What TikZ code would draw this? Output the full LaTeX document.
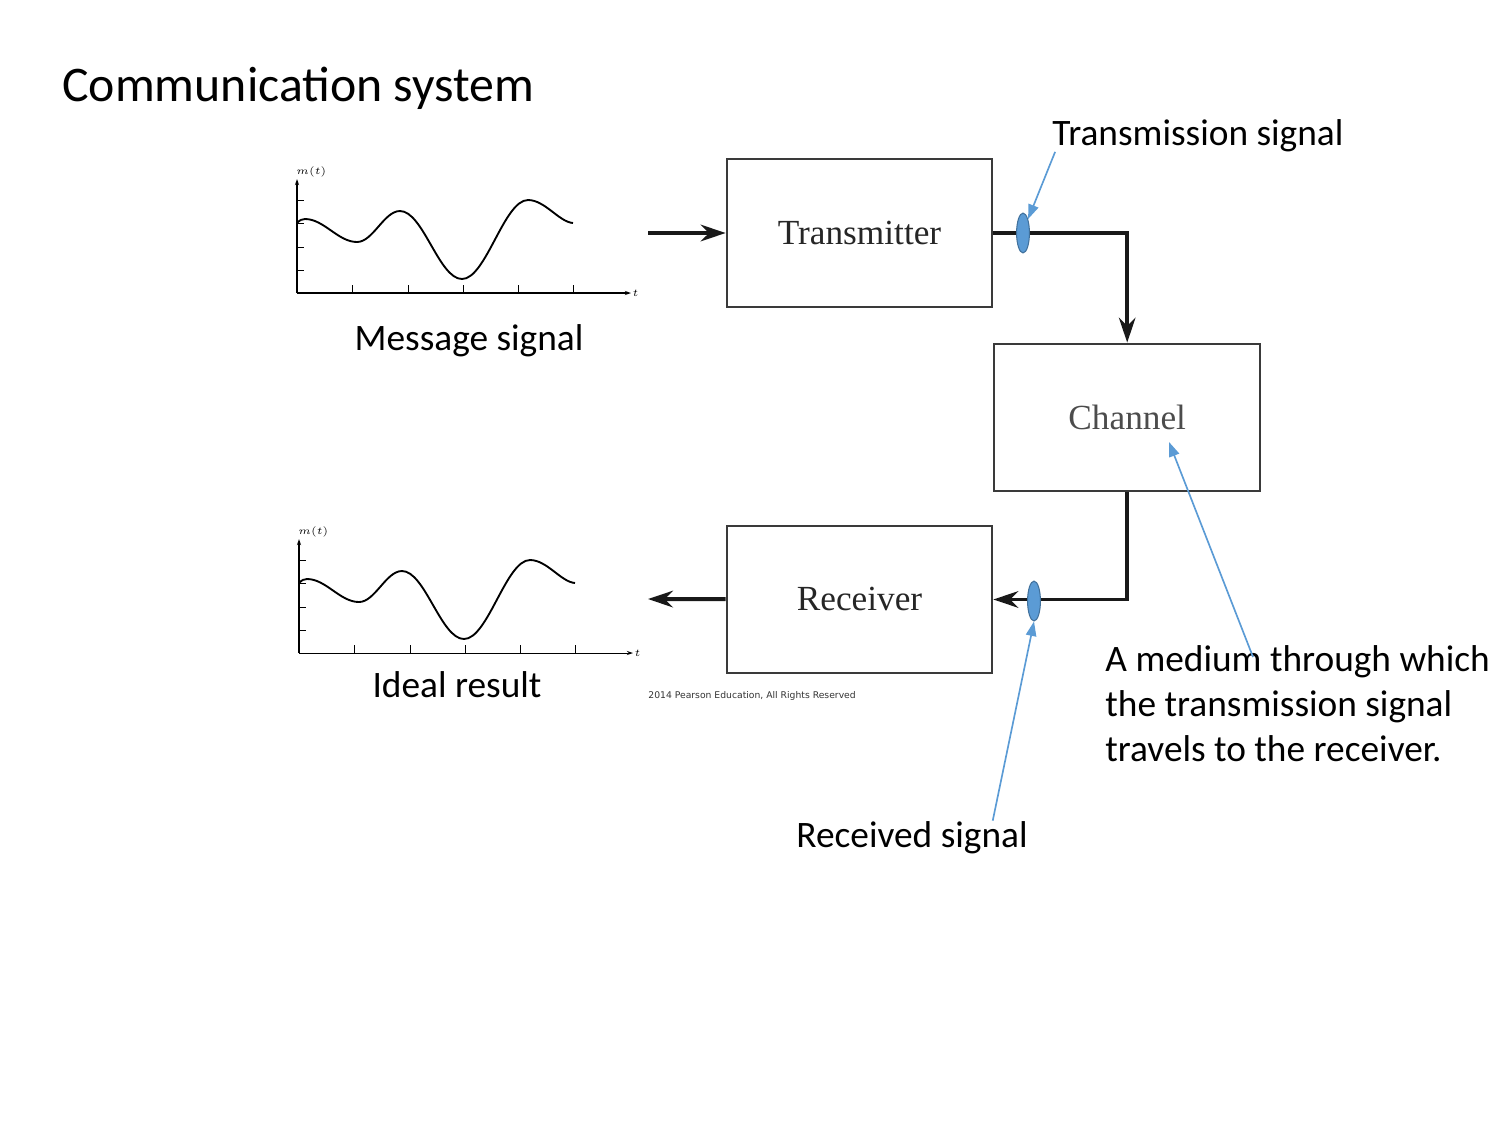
\documentclass[tikz,border=0pt]{standalone}
\usepackage{fontspec}
\setmainfont{Carlito}
\newfontfamily\serifbox{Liberation Serif}
\newfontfamily\notefont{DejaVu Sans}
\usetikzlibrary{positioning,arrows.meta,shapes.geometric}
\definecolor{callout}{HTML}{5B9BD5}
\definecolor{calloutdark}{HTML}{41719C}
\definecolor{boxline}{HTML}{3A3A3A}

\begin{document}
\begin{tikzpicture}[x=0.016933cm,y=-0.016933cm,
  block/.style={draw=boxline, line width=1pt, minimum width=128pt, minimum height=71pt, inner sep=0pt, font=\serifbox\fontsize{17}{20}\selectfont, text=black!85},
  sig/.style={line width=1.9pt, black!90, -{Stealth[length=12pt,width=8pt,inset=4pt]}},
  probe/.style={ellipse, fill=callout, draw=calloutdark, line width=0.5pt, minimum width=6.2pt, minimum height=19.2pt, inner sep=0pt},
  callarrow/.style={callout, line width=0.8pt, -{Triangle[length=7pt,width=5pt]}},
  lbl/.style={inner sep=0pt, font=\fontsize{18}{21.6}\selectfont}
]
\useasboundingbox (0,0) rectangle (1500,1125);

%Title
\node (title) [anchor=base west, inner sep=0pt, font=\fontsize{24}{28}\selectfont] at (62,101) {Communication system};

%Blocks
\node (tx) [block] at (859.5,233) {Transmitter};
\node (ch) [block, text=black!70, below right=16.8pt and 0pt of tx] {Channel};
\node (rx) [block, below=104.6pt of tx] {Receiver};

%Free ends of the signal path
\coordinate (msgin) at (648,233);
\coordinate (resout) at (648,599);

%Signal path
\draw[sig] (msgin) -- (tx);
\draw[sig] (tx) -| (ch);
\draw[sig] (ch) |- (rx);
\draw[sig] (rx) -- (resout);

%Probes on the path
\node (txsig) [probe] at (1023,233) {};
\node (rxsig) [probe] at (1034,601) {};

%Signal plots drawn by hand using a loop
\foreach \dx/\dy in {297/293, 299/653}{
\begin{scope}[shift={(\dx,\dy)}]
 \draw[line width=0.5pt, -{Stealth[length=3pt,width=2pt]}] (0,0) -- (334,0) node[right, inner sep=0.5pt, font=\fontsize{5.5}{6}\selectfont] {$t$};
 \draw[line width=0.5pt, -{Stealth[length=3pt,width=2pt]}] (0,0) -- (0,-114) node[above right, xshift=-1pt, inner sep=0.5pt, font=\fontsize{5.5}{6}\selectfont] {$m(t)$};
 \foreach \x in {55,111,166,221,276}
  \draw[line width=0.4pt] (\x,0) -- (\x,-8);
 \foreach \y in {-23,-46,-70,-93}
  \draw[line width=0.4pt] (0,\y) -- (7,\y);
 \draw[line width=0.9pt] (0,-70) .. controls (3,-73) and (5,-74) .. (8,-74)
   .. controls (27,-74) and (41,-51) .. (60,-51)
   .. controls (76,-51) and (87,-82) .. (103,-82)
   .. controls (126,-82) and (142,-14) .. (165,-14)
   .. controls (189,-14) and (207,-93) .. (231,-93)
   .. controls (248,-93) and (262,-71) .. (276,-70);
\end{scope}
}

%Names
\node (msg) [lbl, anchor=base] at (469,350) {Message signal};
\node (ideal) [lbl, anchor=base] at (457,697) {Ideal result};
\node (copyr) [anchor=base west, inner sep=0pt, font=\notefont\fontsize{4.45}{5}\selectfont, text=black!80] at (648,698) {2014 Pearson Education, All Rights Reserved};
\node (lbltx) [lbl, anchor=base west] at (1052,145) {Transmission signal};
\node (lblrx) [lbl, anchor=base west] at (796,847) {Received signal};
\node (lblch) [lbl, anchor=north west, align=left] at (1105,645) {A medium through which\\the transmission signal\\travels to the receiver.};
\coordinate (medtip) at (1169,442);
\coordinate (medfoot) at (1253,657);

%Callouts
\draw[callarrow] ([xshift=1.5pt]lbltx.south west) -- (txsig.70);
\draw[callarrow] ([xshift=-17pt]lblrx.north east) -- (rxsig.south);
\draw[callarrow] (medfoot) -- (medtip);

\end{tikzpicture}
\end{document}
